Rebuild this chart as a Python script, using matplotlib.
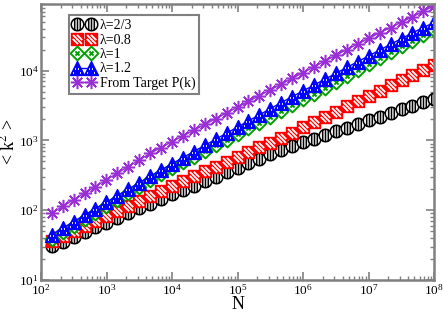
import numpy as np
import matplotlib.pyplot as plt
from matplotlib.path import Path

plt.rcParams['font.family'] = ['Liberation Serif', 'DejaVu Serif']
plt.rcParams['mathtext.fontset'] = 'stix'

# system size N
N = [145, 213, 313, 459, 674, 990, 1454, 2135, 3136, 4605, 6763, 9932,
     14586, 21421, 31459, 46200, 67850, 99640, 146330, 214900, 315600,
     463500, 680700, 999600, 1468000, 2156000, 3166000, 4650000, 6829000,
     10030000, 14730000, 21630000, 31770000, 46650000, 68510000, 100000000]

# <k^2> for each lambda
k2_23 = [30.1, 35.2, 41.2, 48.2, 56.4, 66.1, 77.3, 90.4, 106, 124, 145, 168,
         195, 225, 261, 303, 352, 407, 472, 547, 634, 735, 832, 938, 1057,
         1194, 1346, 1517, 1714, 1932, 2178, 2460, 2773, 3126, 3532, 3950]
k2_08 = [36.3, 42.9, 50.6, 59.8, 70.6, 83.4, 98.4, 116, 137, 162, 191, 224,
         262, 307, 360, 421, 493, 577, 676, 792, 927, 1086, 1294, 1538, 1828,
         2173, 2588, 3076, 3656, 4355, 5176, 6152, 7328, 8710, 10300, 12100]
k2_1 = [38.9, 48.2, 59.7, 74.1, 91.8, 114, 141, 175, 217, 268, 331, 399,
        482, 581, 701, 846, 1021, 1231, 1486, 1791, 2163, 2606, 3170, 3855,
        4697, 5715, 6950, 8472, 10300, 12530, 15200, 18400, 22300, 27000,
        32500, 38500]
k2_12 = [44.7, 55.3, 68.4, 84.7, 105, 130, 161, 199, 247, 305, 377, 461,
         565, 692, 847, 1036, 1268, 1552, 1901, 2323, 2844, 3483, 4227, 5129,
         6209, 7534, 9141, 11090, 13460, 16290, 19700, 23800, 28800, 34700,
         41500, 49000]
k2_target = [91, 113, 141, 175, 218, 272, 338, 421, 523, 650, 789, 955,
             1153, 1396, 1690, 2042, 2472, 2985, 3614, 4375, 5284, 6397, 7745,
             9354, 11320, 13710, 16560, 20040, 24100, 29000, 34800, 41500,
             49500, 59000, 71000, 85000]

labels = ['λ=2/3', 'λ=0.8', 'λ=1', 'λ=1.2', 'From Target P(k)']
purple = '#9a2fd6'
green = '#00a000'


def path(pieces):
    # pieces: list of (closed, verts)
    verts, codes = [], []
    for closed, vv in pieces:
        verts += vv
        codes += [Path.MOVETO] + [Path.LINETO] * (len(vv) - 1)
        if closed:
            verts.append(vv[0])
            codes.append(Path.CLOSEPOLY)
    return Path(verts, codes)


# hatched circle: outline + vertical chords
t = np.linspace(0, 2 * np.pi, 40)
circ = [(np.cos(a), np.sin(a)) for a in t[:-1]]
chords = [(False, [(x, -np.sqrt(1 - x * x)), (x, np.sqrt(1 - x * x))])
          for x in (-0.45, 0.0, 0.45)]
m_circle = path([(True, circ)] + chords)

# square outline and white stripes
m_square = path([(True, [(-1, -1), (1, -1), (1, 1), (-1, 1)])])
m_sq_stripes = path([(False, [(-1, 1), (-1, 1)]), (False, [(1, -1), (1, -1)]),
                     (False, [(-0.75, 0.75), (0.75, -0.75)]),
                     (False, [(-0.1, 0.8), (0.8, -0.1)]),
                     (False, [(-0.8, 0.1), (0.1, -0.8)])])

# diamond with stripes
m_diamond = path([(True, [(0, 1), (1, 0), (0, -1), (-1, 0)]),
                  (False, [(-0.3, -0.3), (0.3, 0.3)]),
                  (False, [(-0.3, 0.3), (0.3, -0.3)])])

# triangle and white dots
m_tri = path([(True, [(0, 1), (-1, -1), (1, -1)])])
dots = [(0, 0.35), (-0.25, -0.15), (0.25, -0.15), (-0.5, -0.65),
        (0, -0.65), (0.5, -0.65)]
m_tri_dots = path([(False, [(-1, -1), (-1, -1)]), (False, [(1, 1), (1, 1)])] +
                  [(False, [(x - 0.07, y), (x + 0.07, y)]) for x, y in dots])

fig = plt.figure(figsize=(4.43, 3.12), dpi=100)
ax = fig.add_axes([0.093, 0.103, 0.887, 0.884])

h1 = ax.plot(N, k2_23, color='black', lw=1, marker=m_circle, ms=9,
             mfc='white', mec='black', mew=1.1)[0]

h2 = ax.plot(N, k2_08, color='red', lw=1, marker=m_square, ms=8.5,
             mfc='red', mec='red', mew=1)[0]
h2b = ax.plot(N, k2_08, ls='none', marker=m_sq_stripes, ms=8.5,
              mec='white', mew=1.3)[0]

h3 = ax.plot(N, k2_1, color=green, lw=1, marker=m_diamond, ms=10,
             mfc='white', mec=green, mew=1.4)[0]

h4 = ax.plot(N, k2_12, color='blue', lw=1, marker=m_tri, ms=10,
             mfc='blue', mec='blue', mew=1)[0]
h4b = ax.plot(N, k2_12, ls='none', marker=m_tri_dots, ms=10,
              mec='white', mew=1.2)[0]

h5 = ax.plot(N, k2_target, color=purple, lw=1, marker=(8, 2, 0), ms=9.5,
             mew=1.1)[0]

ax.set_xscale('log')
ax.set_yscale('log')
ax.set_xlim(1e2, 1e8)
ax.set_ylim(1e1, 9e4)

ax.set_xlabel('N', fontsize=13, labelpad=-1)
ax.set_ylabel(r'< k$^2$ >', fontsize=13, labelpad=0)

for s in ax.spines.values():
    s.set_color('#808080')
    s.set_linewidth(1.8)
ax.tick_params(which='both', direction='in', top=True, right=True,
               color='#808080', labelsize=9.5, pad=2)
ax.tick_params(which='major', length=6, width=1.2)
ax.tick_params(which='minor', length=3, width=1.0)

leg = ax.legend([h1, (h2, h2b), h3, (h4, h4b), h5], labels, loc='upper left',
                bbox_to_anchor=(0.071, 0.96), borderaxespad=0,
                fontsize=10, numpoints=2, handlelength=1.6, handletextpad=0.3,
                labelspacing=0.1, borderpad=0.3, fancybox=False,
                framealpha=1)
leg.get_frame().set_edgecolor('#808080')
leg.get_frame().set_linewidth(1.5)

fig.savefig('out.png', dpi=100)
